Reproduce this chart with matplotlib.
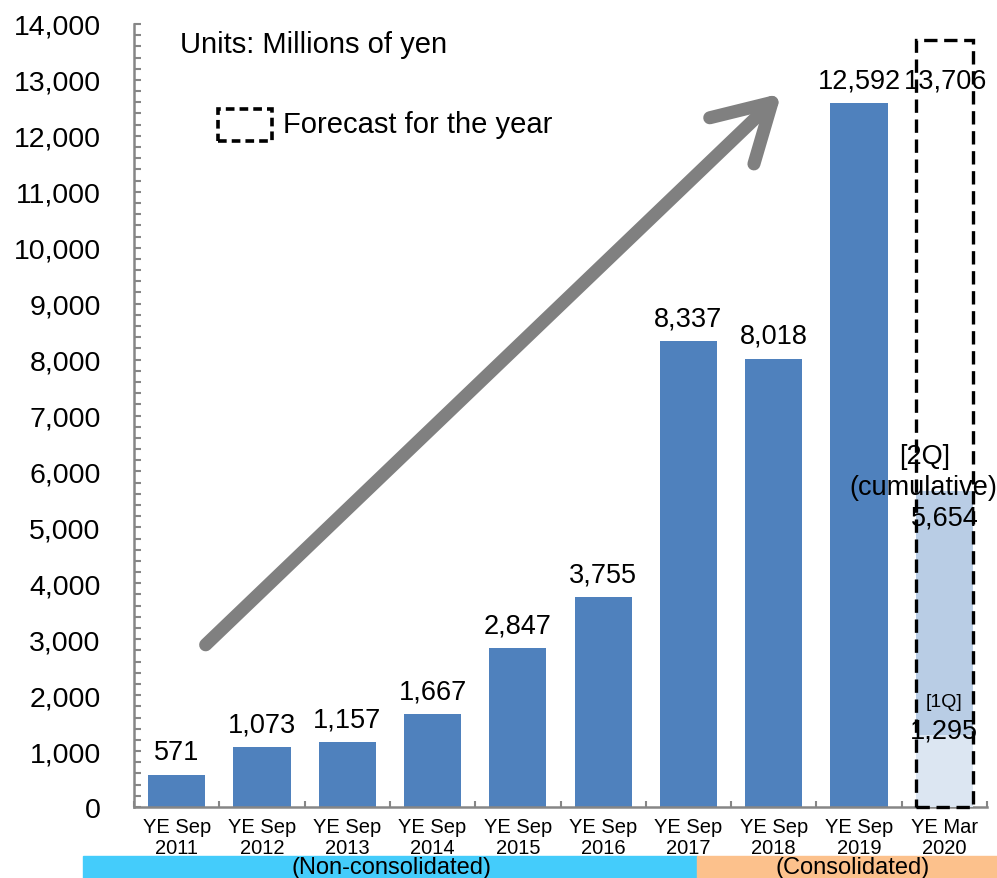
import matplotlib
matplotlib.use('Agg')
import matplotlib.pyplot as plt
from matplotlib.patches import Rectangle
from matplotlib.ticker import MultipleLocator, FuncFormatter


plt.rcParams['font.family'] = ['Liberation Sans', 'DejaVu Sans']

periods = ['YE Sep\n2011', 'YE Sep\n2012', 'YE Sep\n2013', 'YE Sep\n2014', 'YE Sep\n2015',
           'YE Sep\n2016', 'YE Sep\n2017', 'YE Sep\n2018', 'YE Sep\n2019', 'YE Mar\n2020']
net_sales = [571, 1073, 1157, 1667, 2847, 3755, 8337, 8018, 12592]
forecast_2020 = 13706
cumulative_2q_2020 = 5654
first_q_2020 = 1295

bar_color = '#4f81bd'
width = 0.67

fig = plt.figure(figsize=(9.97, 8.79), dpi=100)
ax = fig.add_axes([134 / 997, 71 / 879, 853 / 997, 783 / 879])

xs = list(range(len(net_sales)))
ax.bar(xs, net_sales, width=width, color=bar_color, zorder=2)

for x, value in zip(xs, net_sales):
    ax.annotate(f'{value:,}', xy=(x, value), xytext=(0, 7), textcoords='offset points',
                ha='center', va='bottom', fontsize=19.5)

# current fiscal year: cumulative 2Q with 1Q underneath, forecast as dashed outline
last = len(periods) - 1
ax.bar(last, cumulative_2q_2020, width=width, color='#b9cde5', zorder=2)
ax.bar(last, first_q_2020, width=width, color='#dce6f2', zorder=3)
ax.add_patch(Rectangle((last - width / 2, 0), width, forecast_2020, fill=False,
                       edgecolor='black', linewidth=2.4, linestyle=(0, (4.0, 2.0)),
                       zorder=4, clip_on=False))

ax.annotate(f'{forecast_2020:,}', xy=(last, net_sales[-1]), xytext=(1, 7), textcoords='offset points',
            ha='center', va='bottom', fontsize=19.5, zorder=5)
ax.annotate('[2Q]', xy=(last, cumulative_2q_2020), xytext=(-14, 25), textcoords='offset points',
            ha='center', va='center', fontsize=19.5, zorder=5)
ax.annotate('(cumulative)', xy=(last, cumulative_2q_2020), xytext=(-15, 3), textcoords='offset points',
            ha='center', va='center', fontsize=19.5, zorder=5)
ax.annotate(f'{cumulative_2q_2020:,}', xy=(last, cumulative_2q_2020), xytext=(0, -19),
            textcoords='offset points', ha='center', va='center', fontsize=19.5, zorder=5)
ax.annotate('[1Q]', xy=(last, first_q_2020), xytext=(0, 24), textcoords='offset points',
            ha='center', va='center', fontsize=14, zorder=5)
ax.annotate(f'{first_q_2020:,}', xy=(last, first_q_2020), xytext=(0, 3), textcoords='offset points',
            ha='center', va='center', fontsize=19.5, zorder=5)

# growth arrow
ax.annotate('', xy=(7.09, 12760), xytext=(0.34, 2900),
            arrowprops=dict(arrowstyle='->,head_length=2.0,head_width=1.15', mutation_scale=20,
                            lw=9.4, color='#808080', capstyle='round', joinstyle='round',
                            shrinkA=0, shrinkB=0), zorder=1)

ax.set_xlim(-0.5, len(periods) - 0.5)
ax.set_ylim(0, 14000)

ax.yaxis.set_major_locator(MultipleLocator(1000))
ax.yaxis.set_minor_locator(MultipleLocator(200))
ax.yaxis.set_major_formatter(FuncFormatter(lambda v, _: f'{int(v):,}'))
ax.tick_params(axis='y', which='both', direction='in', length=5, width=1.5, color='#868686',
               labelsize=20.5, pad=24)

ax.set_xticks([i + 0.5 for i in range(-1, len(periods))])
ax.set_xticklabels([])
ax.set_xticks(range(len(periods)), minor=True)
ax.set_xticklabels(periods, minor=True)
ax.tick_params(axis='x', which='major', direction='in', length=4, width=1.5, color='#868686')
ax.tick_params(axis='x', which='minor', length=0, labelsize=14.5, pad=7)
for label in ax.get_xticklabels(minor=True):
    label.set_linespacing(1.12)

for side in ['top', 'right']:
    ax.spines[side].set_visible(False)
for side in ['left', 'bottom']:
    ax.spines[side].set_color('#868686')
    ax.spines[side].set_linewidth(1.8)

# notes in the top-left corner
fig.text(180 / 997, 1 - 45 / 879, 'Units: Millions of yen', fontsize=21, va='center', ha='left')
fig.patches.append(Rectangle((218 / 997, 1 - 142 / 879), 54 / 997, 32 / 879, fill=False,
                             edgecolor='black', linewidth=2.6, linestyle=(0, (2.4, 1.4)),
                             transform=fig.transFigure, figure=fig))
fig.text(283 / 997, 1 - 125 / 879, 'Forecast for the year', fontsize=21, va='center', ha='left')

# accounting basis bands under the axis
fig.patches.append(Rectangle((83 / 997, 0), (697 - 83) / 997, 22 / 879, color='#44ccfb',
                             transform=fig.transFigure, figure=fig))
fig.patches.append(Rectangle((697 / 997, 0), 300 / 997, 22 / 879, color='#fcc18c',
                             transform=fig.transFigure, figure=fig))
fig.text(391 / 997, 11 / 879, '(Non-consolidated)', fontsize=17, ha='center', va='center')
fig.text(853 / 997, 11 / 879, '(Consolidated)', fontsize=17, ha='center', va='center')

fig.savefig('out.png', dpi=100)
